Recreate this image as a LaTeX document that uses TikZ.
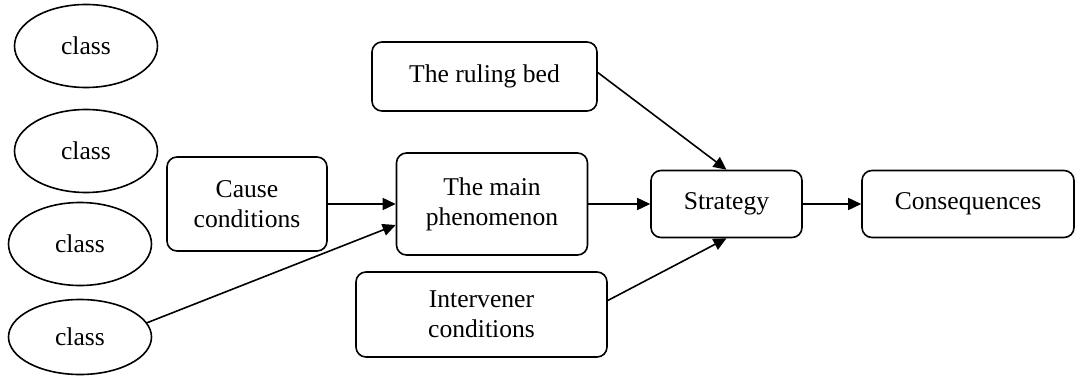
\documentclass[tikz,border=0pt]{standalone}
\usepackage{fontspec}
\setmainfont{Liberation Serif}
\usetikzlibrary{arrows.meta,shapes.geometric}

\begin{document}
\begin{tikzpicture}[
    x=0.5pt, y=-0.5pt,
    class node/.style={draw, line width=0.8pt, ellipse, minimum width=71.5pt,
    minimum height=41.5pt, inner sep=0pt},
    stage box/.style={draw, line width=0.8pt, rounded corners=5pt, align=center,
    inner sep=0pt},
    flow arrow/.style={line width=0.8pt, -{Triangle[length=6.5pt,width=6pt]}},
    every node/.style={font=\fontsize{12.8}{15}\selectfont, color=black}
    ]

\useasboundingbox (0,0) rectangle (1076,385);

% classes on the left
\node[class node] (c1) at (86,46) {class};
\node[class node] (c2) at (86,151) {class};
\node[class node] (c3) at (80,244) {class};
\node[class node, minimum height=37.5pt] (c4) at (80,337) {class};

% paradigm boxes
\node[stage box, minimum width=80pt, minimum height=47pt] (cause) at (247,204)
        {Cause\\conditions};
\node[stage box, minimum width=95.5pt, minimum height=51pt] (main) at (492,204)
        {The main\\phenomenon};
\node[stage box, minimum width=112.5pt, minimum height=34.5pt] (bed) at (484.5,76.5)
        {The ruling bed};
\node[stage box, minimum width=125.5pt, minimum height=42.5pt] (inter) at (481.5,314.5)
        {Intervener\\conditions};
\node[stage box, minimum width=75.5pt, minimum height=33.5pt] (strat) at (726.5,204)
        {Strategy};
\node[stage box, minimum width=106pt, minimum height=33.5pt] (conseq) at (968,204)
        {Consequences};

\draw[flow arrow] (cause) -- (main);
\draw[flow arrow] (main) -- (strat);
\draw[flow arrow] (strat) -- (conseq);

\draw[flow arrow] ([yshift=2pt]bed.east) -- (strat.north);
\draw[flow arrow] ([yshift=7pt]inter.east) -- (strat.south);
\draw[flow arrow] (c4.12) -- ([yshift=-10.5pt]main.west);

\end{tikzpicture}
\end{document}
